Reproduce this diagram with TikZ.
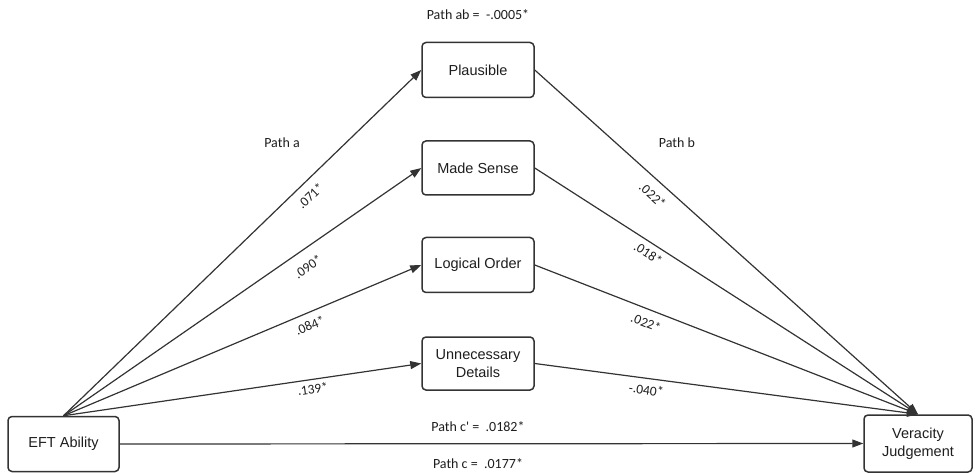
\documentclass[tikz,border=0pt]{standalone}
\usepackage{fontspec}
\setmainfont{Liberation Sans}
\newfontfamily\labelfont{Carlito}
\usetikzlibrary{arrows.meta}
\definecolor{ink}{HTML}{333333}
\definecolor{txt}{HTML}{1E1E1E}
\tikzset{
  var/.style={draw=ink, line width=1.5pt, rounded corners=4pt, fill=white,
    minimum height=55pt, align=center, text=txt,
    font=\fontsize{14.5}{18}\selectfont},
  conn/.style={draw=ink, line width=1.2pt, -{Triangle[length=11pt,width=8pt]}},
  coef/.style={sloped, inner sep=0pt, text=txt, font=\labelfont\fontsize{13.5}{15}\selectfont},
  pathlbl/.style={inner sep=0pt, text=txt, font=\labelfont\fontsize{14}{16}\selectfont}
}
\begin{document}
\begin{tikzpicture}[x=1pt, y=-1pt]
\useasboundingbox (0,0) rectangle (975,473);

% variables
\node[var, minimum width=111pt] (eft) at (63.5,444) {EFT Ability};
\node[var, minimum width=108pt, minimum height=57pt] (ver) at (918,443.5) {Veracity\\Judgement};
\node[var, minimum width=112pt] (pla) at (478,70) {Plausible};
\node[var, minimum width=112pt, minimum height=54pt] (mad) at (478,168) {Made Sense};
\node[var, minimum width=112pt] (log) at (478,265) {Logical Order};
\node[var, minimum width=112pt, minimum height=53pt] (unn) at (478,363.5) {Unnecessary\\Details};

% path a: predictor to mediators
\draw[conn] (eft.north) -- (pla.west) node[coef, pos=0.664, below=8pt] {.071*};
\draw[conn] (eft.north) -- (mad.west) node[coef, pos=0.657, below=11pt] {.090*};
\draw[conn] (eft.north) -- (log.west) node[coef, pos=0.675, below=7pt] {.084*};
\draw[conn] (eft.north) -- (unn.west) node[coef, pos=0.693, below=4pt] {.139*};

% path b: mediators to outcome
\draw[conn] (pla.east) -- (ver.north) node[coef, pos=0.333, below=9pt] {.022*};
\draw[conn] (mad.east) -- (ver.north) node[coef, pos=0.311, below=5pt] {.018*};
\draw[conn] (log.east) -- (ver.north) node[coef, pos=0.303, below=8pt] {.022*};
\draw[conn] (unn.east) -- (ver.north) node[coef, pos=0.295, below=6pt] {-.040*};

% direct effect
\draw[conn] (eft.east) -- (ver.west);

% path captions
\node[pathlbl] (ab) at (478,15) {Path ab =\ \ -.0005*};
\node[pathlbl] (pa) at (282,143) {Path a};
\node[pathlbl] (pb) at (677,143) {Path b};
\node[pathlbl] (cp) at (478,427) {Path c' =\ \ .0182*};
\node[pathlbl] (c) at (478,464) {Path c =\ \ .0177*};
\end{tikzpicture}
\end{document}
